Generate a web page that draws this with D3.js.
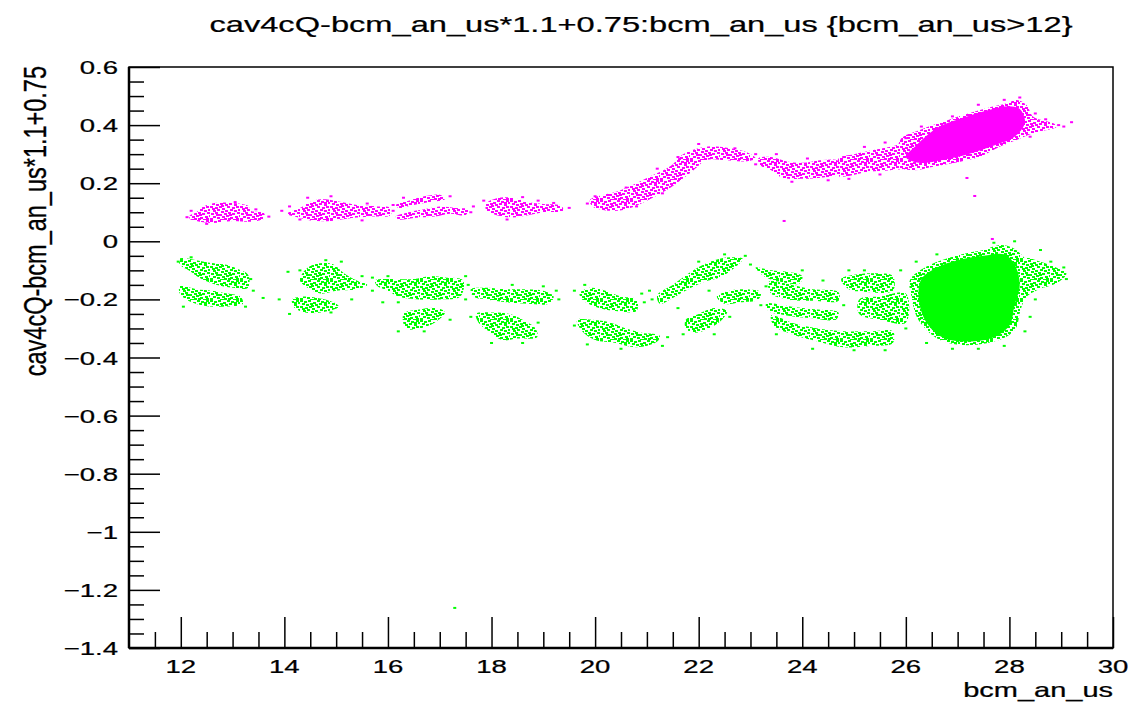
<!DOCTYPE html>
<html>
<head>
<meta charset="utf-8">
<script src="https://cdn.jsdelivr.net/npm/d3@7"></script>
<style>
  body { margin: 0; background: #fff; }
  text { font-family: "Liberation Sans", Arial, Helvetica, sans-serif; fill: #000; stroke: #000; stroke-width: 0.25px; }
</style>
</head>
<body>
<svg id="chart" width="1132" height="703"></svg>
<script>
// ---- axis setup ----
const xDomain = [11, 30];
const yDomain = [-1.4, 0.6];
const xMajorTicks = [12, 14, 16, 18, 20, 22, 24, 26, 28, 30];
const yMajorTicks = [0.6, 0.4, 0.2, 0, -0.2, -0.4, -0.6, -0.8, -1, -1.2, -1.4];
const xTitle = "bcm_an_us";
const yTitle = "cav4cQ-bcm_an_us*1.1+0.75";
const chartTitle = "cav4cQ-bcm_an_us*1.1+0.75:bcm_an_us {bcm_an_us>12}";

// ---- magenta series: speckled cluster outlines, solid dense core, loose points ----
const magentaBands = [
  [[12.17,0.088],[12.3,0.1],[12.42,0.118],[12.6,0.13],[12.9,0.133],[13.3,0.122],[13.35,0.105],[13.6,0.098],[13.62,0.08],[13.4,0.068],[13.0,0.07],[12.6,0.063],[12.3,0.07],[12.17,0.078]],
  [[14.05,0.095],[14.3,0.115],[14.55,0.14],[14.8,0.145],[15.1,0.135],[15.4,0.125],[15.8,0.12],[16.05,0.115],[16.05,0.09],[15.7,0.085],[15.3,0.08],[14.9,0.07],[14.5,0.072],[14.2,0.085]],
  [[16.15,0.125],[16.4,0.14],[16.7,0.155],[17.0,0.16],[17.1,0.145],[16.8,0.135],[16.5,0.125],[16.2,0.115]],
  [[16.15,0.085],[16.4,0.1],[16.7,0.11],[17.0,0.12],[17.3,0.115],[17.55,0.11],[17.5,0.09],[17.2,0.095],[16.9,0.085],[16.5,0.08],[16.2,0.075]],
  [[17.9,0.13],[18.1,0.148],[18.4,0.15],[18.7,0.135],[19.0,0.128],[19.35,0.122],[19.38,0.105],[19.0,0.1],[18.7,0.09],[18.4,0.082],[18.1,0.09],[17.9,0.105]],
  [[19.9,0.142],[20.48,0.175],[21.0,0.218],[21.45,0.258],[21.7,0.3],[22.1,0.325],[22.45,0.325],[22.95,0.305],[23.1,0.285],[22.9,0.275],[22.45,0.28],[22.15,0.28],[21.9,0.245],[21.65,0.21],[21.4,0.178],[21.0,0.14],[20.6,0.11],[20.3,0.105],[19.95,0.12]],
  [[23.15,0.285],[23.4,0.29],[23.7,0.275],[24.0,0.27],[24.4,0.28],[24.7,0.275],[24.7,0.23],[24.4,0.22],[24.0,0.215],[23.6,0.22],[23.4,0.245],[23.2,0.26]],
  [[24.7,0.285],[25.0,0.3],[25.4,0.315],[25.8,0.33],[26.1,0.345],[26.1,0.26],[25.7,0.245],[25.3,0.24],[24.9,0.225],[24.7,0.225]],
  [[25.89,0.349],[26.27,0.383],[26.72,0.412],[27.11,0.435],[27.56,0.458],[27.95,0.475],[28.14,0.486],[28.33,0.469],[28.46,0.429],[28.85,0.406],[28.91,0.394],[28.46,0.372],[28.14,0.349],[27.82,0.326],[27.43,0.291],[27.05,0.274],[26.53,0.257],[26.14,0.245],[25.89,0.257]]
];
const magentaCore = [[26.2,0.33],[26.6,0.39],[27.1,0.425],[27.6,0.452],[28.0,0.465],[28.2,0.455],[28.3,0.41],[28.1,0.36],[27.7,0.33],[27.2,0.3],[26.7,0.28],[26.25,0.27],[26.0,0.29]];
const magentaPoints = [
  [12.12,0.083],[12.2,0.105],[13.05,0.135],[13.7,0.085],[13.45,0.11],[12.5,0.06],
  [13.95,0.105],[14.1,0.12],[14.45,0.15],[14.9,0.155],[15.6,0.13],[16.1,0.125],[15.5,0.072],[14.3,0.075],
  [16.1,0.105],[17.2,0.155],[16.3,0.15],[17.6,0.1],[17.65,0.12],
  [17.85,0.14],[18.6,0.152],[19.5,0.115],[18.9,0.14],[19.2,0.132],[18.3,0.075],
  [19.85,0.13],[20.0,0.155],[20.6,0.185],[21.2,0.25],[21.6,0.29],[22.0,0.335],[22.7,0.32],[23.1,0.3],[21.3,0.165],[20.8,0.12],
  [23.1,0.265],[23.5,0.3],[24.1,0.285],[24.8,0.29],[23.8,0.205],[24.5,0.21],
  [25.2,0.325],[25.6,0.34],[24.9,0.215],[25.5,0.23],[26.0,0.355],[26.3,0.395],
  [28.5,0.44],[28.7,0.42],[28.95,0.4],[29.05,0.395],[28.4,0.36],[28.2,0.495],[27.9,0.487],[27.4,0.47],[26.9,0.43],
  [29.2,0.41],[27.18,0.218],[27.33,0.156],[23.65,0.07],[27.67,0.008]
];

// ---- green series ----
const greenBands = [
  [[11.98,-0.06],[12.3,-0.065],[12.6,-0.075],[12.9,-0.082],[13.1,-0.095],[13.3,-0.115],[13.3,-0.16],[13.0,-0.16],[12.7,-0.15],[12.4,-0.13],[12.15,-0.1],[11.98,-0.08]],
  [[11.98,-0.155],[12.3,-0.165],[12.6,-0.17],[12.9,-0.18],[13.15,-0.19],[13.2,-0.215],[12.8,-0.225],[12.4,-0.22],[12.1,-0.2],[11.98,-0.18]],
  [[14.35,-0.11],[14.5,-0.085],[14.75,-0.075],[14.95,-0.08],[15.15,-0.11],[15.4,-0.135],[15.6,-0.15],[15.4,-0.165],[15.0,-0.17],[14.7,-0.18],[14.45,-0.16],[14.3,-0.135]],
  [[14.15,-0.2],[14.4,-0.19],[14.65,-0.195],[14.95,-0.21],[15.05,-0.225],[14.7,-0.245],[14.4,-0.245],[14.2,-0.23]],
  [[15.75,-0.135],[16.1,-0.13],[16.5,-0.13],[16.8,-0.12],[17.1,-0.125],[17.45,-0.135],[17.4,-0.19],[17.0,-0.2],[16.6,-0.2],[16.2,-0.19],[16.0,-0.17],[15.8,-0.155]],
  [[16.3,-0.25],[16.6,-0.235],[16.95,-0.23],[17.1,-0.245],[16.9,-0.28],[16.6,-0.3],[16.35,-0.3]],
  [[17.6,-0.165],[17.9,-0.16],[18.3,-0.165],[18.7,-0.165],[19.0,-0.17],[19.2,-0.19],[19.1,-0.215],[18.7,-0.215],[18.3,-0.21],[17.9,-0.2],[17.65,-0.19]],
  [[17.7,-0.25],[18.0,-0.245],[18.35,-0.25],[18.6,-0.27],[18.85,-0.3],[18.88,-0.33],[18.5,-0.335],[18.2,-0.34],[17.95,-0.31],[17.75,-0.28]],
  [[19.7,-0.18],[19.9,-0.16],[20.2,-0.17],[20.5,-0.19],[20.8,-0.2],[20.8,-0.24],[20.4,-0.24],[20.0,-0.225],[19.75,-0.2]],
  [[19.65,-0.27],[19.95,-0.27],[20.3,-0.28],[20.6,-0.3],[20.9,-0.315],[21.25,-0.325],[21.2,-0.345],[20.8,-0.365],[20.4,-0.35],[20.0,-0.34],[19.75,-0.31]],
  [[21.2,-0.185],[21.5,-0.15],[21.85,-0.105],[22.1,-0.08],[22.3,-0.065],[22.6,-0.055],[22.85,-0.06],[22.7,-0.09],[22.4,-0.125],[22.1,-0.14],[21.85,-0.16],[21.5,-0.195],[21.25,-0.215]],
  [[22.35,-0.19],[22.6,-0.17],[22.9,-0.165],[23.2,-0.175],[23.15,-0.2],[22.8,-0.21],[22.5,-0.215]],
  [[21.75,-0.27],[22.0,-0.25],[22.3,-0.23],[22.55,-0.24],[22.45,-0.27],[22.2,-0.3],[21.9,-0.315],[21.75,-0.3]],
  [[23.1,-0.09],[23.4,-0.1],[23.7,-0.105],[24.0,-0.12],[23.95,-0.145],[23.6,-0.14],[23.3,-0.125]],
  [[23.35,-0.14],[23.8,-0.15],[24.2,-0.165],[24.7,-0.175],[24.7,-0.205],[24.2,-0.205],[23.7,-0.2],[23.4,-0.18]],
  [[23.3,-0.215],[23.8,-0.225],[24.3,-0.235],[24.7,-0.245],[24.65,-0.27],[24.2,-0.265],[23.7,-0.255],[23.35,-0.24]],
  [[23.4,-0.255],[23.8,-0.28],[24.3,-0.3],[24.8,-0.31],[25.3,-0.31],[25.75,-0.31],[25.75,-0.35],[25.3,-0.36],[24.8,-0.365],[24.3,-0.345],[23.8,-0.32],[23.45,-0.29]],
  [[24.75,-0.13],[25.0,-0.115],[25.4,-0.11],[25.75,-0.12],[25.75,-0.17],[25.3,-0.175],[24.9,-0.165]],
  [[25.1,-0.2],[25.5,-0.19],[26.0,-0.18],[26.0,-0.28],[25.5,-0.27],[25.1,-0.25]],
  [[26.08,-0.133],[26.40,-0.087],[26.79,-0.059],[27.17,-0.041],[27.50,-0.030],[27.82,-0.013],[28.07,-0.023],[28.27,-0.053],[28.46,-0.099],[28.72,-0.144],[28.33,-0.191],[28.2,-0.247],[28.14,-0.294],[27.95,-0.328],[27.56,-0.351],[27.05,-0.357],[26.66,-0.340],[26.40,-0.305],[26.21,-0.26],[26.11,-0.191]],
  [[28.3,-0.06],[28.6,-0.07],[28.9,-0.09],[29.1,-0.11],[28.95,-0.14],[28.6,-0.16],[28.3,-0.15]]
];
const greenCore = [[26.3,-0.13],[26.6,-0.09],[27.0,-0.065],[27.5,-0.05],[27.9,-0.045],[28.1,-0.08],[28.2,-0.15],[28.1,-0.22],[28.0,-0.29],[27.7,-0.33],[27.2,-0.345],[26.7,-0.33],[26.4,-0.28],[26.25,-0.2]];
const greenPoints = [
  [11.95,-0.07],[12.2,-0.055],[13.35,-0.13],[13.4,-0.17],[12.05,-0.225],[13.25,-0.225],[13.59,-0.195],
  [14.07,-0.105],[13.9,-0.2],[14.3,-0.1],[14.8,-0.065],[15.1,-0.07],[15.5,-0.12],[15.7,-0.17],[14.1,-0.25],[14.9,-0.245],[15.3,-0.2],
  [15.7,-0.125],[16.0,-0.12],[16.2,-0.21],[15.9,-0.21],[16.2,-0.31],[16.7,-0.31],[17.2,-0.27],[17.5,-0.12],[17.5,-0.2],
  [17.55,-0.15],[18.4,-0.15],[19.0,-0.155],[19.3,-0.2],[19.25,-0.17],[17.6,-0.26],[18.9,-0.28],[18.6,-0.35],[18.0,-0.35],
  [19.6,-0.17],[19.8,-0.15],[20.95,-0.21],[20.9,-0.18],[19.6,-0.29],[19.85,-0.355],[20.5,-0.37],[21.4,-0.33],[21.3,-0.36],
  [21.1,-0.2],[21.05,-0.17],[22.0,-0.07],[22.5,-0.045],[22.9,-0.05],[23.0,-0.08],[22.2,-0.17],[21.6,-0.23],[21.7,-0.32],[22.6,-0.26],[22.3,-0.32],
  [23.3,-0.155],[23.2,-0.22],[24.0,-0.1],[24.4,-0.135],[24.9,-0.1],[25.2,-0.1],[24.8,-0.22],[23.5,-0.32],[24.2,-0.37],[25.0,-0.375],[25.6,-0.375],[25.9,-0.1],
  [28.5,-0.2],[28.4,-0.26],[28.3,-0.31],[27.9,-0.36],[27.4,-0.37],[26.9,-0.37],[26.4,-0.35],[26.0,-0.3],[28.8,-0.07],[29.05,-0.09],[29.1,-0.13],[28.6,-0.03],[28.1,0.0],[27.7,-0.005],[26.2,-0.07],[26.6,-0.045],
  [17.29,-1.262]
];

// ---- drawing ----
const plot = { left: 129, right: 1113, top: 67, bottom: 648 };
const stretch = 1.45; // glyphs are drawn wider than tall

const svg = d3.select("#chart");
const x = d3.scaleLinear().domain(xDomain).range([plot.left, plot.right]);
const y = d3.scaleLinear().domain(yDomain).range([plot.bottom, plot.top]);

// irregular speckle texture (30x20 tile of 3x2 dots) used to fill the scattered clusters
const speckle = [
  [0,0],[4,1],[8,0],[13,2],[17,0],[21,1],[26,0],
  [2,3],[6,4],[10,3],[15,4],[19,3],[24,4],[28,2],
  [0,6],[5,7],[9,6],[12,8],[17,6],[22,7],[26,6],
  [3,10],[7,9],[11,11],[15,10],[20,9],[24,10],[28,9],
  [1,13],[5,12],[9,14],[14,13],[18,12],[22,13],[27,12],
  [3,16],[7,17],[12,16],[16,15],[20,17],[25,16],[29,15],
  [0,18],[10,19],[18,18],[23,19],[14,18],
  [11,5],[2,8],[19,14],[26,18],[6,14],[24,2],[13,19]
];
const defs = svg.append("defs");
[["spk-m", "#ff00ff"], ["spk-g", "#00ff00"]].forEach(([id, col]) => {
  const p = defs.append("pattern").attr("id", id).attr("patternUnits", "userSpaceOnUse")
    .attr("width", 30).attr("height", 20);
  p.selectAll("rect").data(speckle).join("rect")
    .attr("x", d => d[0]).attr("y", d => d[1]).attr("width", 3).attr("height", 2).attr("fill", col);
});

const area = d3.line().x(d => x(d[0])).y(d => y(d[1])).curve(d3.curveCatmullRomClosed.alpha(0.5));
const marks = svg.append("g");

function drawSeries(bands, core, pts, col, pat) {
  const g = marks.append("g");
  g.selectAll("path.band").data(bands).join("path").attr("class", "band")
    .attr("d", area).attr("fill", `url(#${pat})`);
  g.append("path").datum(core).attr("d", area).attr("fill", col);
  g.selectAll("rect.pt").data(pts).join("rect").attr("class", "pt")
    .attr("x", d => x(d[0]) - 1.5).attr("y", d => y(d[1]) - 1)
    .attr("width", 3).attr("height", 2).attr("fill", col);
}
drawSeries(greenBands, greenCore, greenPoints, "#00ff00", "spk-g");
drawSeries(magentaBands, magentaCore, magentaPoints, "#ff00ff", "spk-m");

// frame
svg.append("rect").attr("x", plot.left).attr("y", plot.top)
  .attr("width", plot.right - plot.left).attr("height", plot.bottom - plot.top)
  .attr("fill", "none").attr("stroke", "#000").attr("stroke-width", 1.5);

// x axis ticks
const xMinor = d3.range(11.5, 30, 0.5).filter(v => !xMajorTicks.includes(v));
const xAxisMajor = d3.axisBottom(x).tickValues(xMajorTicks).tickSize(-31).tickFormat("");
const xAxisMinor = d3.axisBottom(x).tickValues(xMinor).tickSize(-16).tickFormat("");
[xAxisMajor, xAxisMinor].forEach(ax => {
  const g = svg.append("g").attr("transform", `translate(0,${plot.bottom})`).call(ax);
  g.select(".domain").remove();
  g.selectAll("line").attr("stroke", "#000").attr("stroke-width", 1.5);
});
svg.append("line").attr("x1", plot.left).attr("x2", plot.right)
  .attr("y1", plot.bottom).attr("y2", plot.bottom).attr("stroke", "#000").attr("stroke-width", 2.5);

// y axis ticks
const yMinor = d3.range(-1.35, 0.6, 0.05).map(v => +v.toFixed(2)).filter(v => !yMajorTicks.some(t => Math.abs(t - v) < 1e-6));
const yAxisMajor = d3.axisLeft(y).tickValues(yMajorTicks).tickSize(-31).tickFormat("");
const yAxisMinor = d3.axisLeft(y).tickValues(yMinor).tickSize(-15).tickFormat("");
[yAxisMajor, yAxisMinor].forEach(ax => {
  const g = svg.append("g").attr("transform", `translate(${plot.left},0)`).call(ax);
  g.select(".domain").remove();
  g.selectAll("line").attr("stroke", "#000").attr("stroke-width", 1.5);
});
svg.append("line").attr("x1", plot.left).attr("x2", plot.left)
  .attr("y1", plot.top).attr("y2", plot.bottom).attr("stroke", "#000").attr("stroke-width", 2.5);

const fmt = v => (v < 0 ? "\u2212" : "") + String(Math.abs(+v.toFixed(1)));

// tick labels (wide glyphs)
svg.append("g").selectAll("text").data(xMajorTicks).join("text")
  .attr("transform", d => `translate(${x(d)},673) scale(${stretch},1)`)
  .attr("text-anchor", "middle").style("font-size", "19px").text(fmt);
svg.append("g").selectAll("text").data(yMajorTicks).join("text")
  .attr("transform", d => `translate(118,${y(d) + 7}) scale(${stretch},1)`)
  .attr("text-anchor", "end").style("font-size", "19px").text(fmt);

// titles
svg.append("text").attr("transform", `translate(641,32) scale(${stretch},1)`)
  .attr("text-anchor", "middle").style("font-size", "22.5px").text(chartTitle);
svg.append("text").attr("transform", `translate(1113,697) scale(${stretch},1)`)
  .attr("text-anchor", "end").style("font-size", "20px").text(xTitle);
svg.append("text").attr("transform", `translate(46,66) scale(1.3,1) rotate(-90)`)
  .attr("text-anchor", "end").style("font-size", "23.5px").text(yTitle);
</script>
</body>
</html>
